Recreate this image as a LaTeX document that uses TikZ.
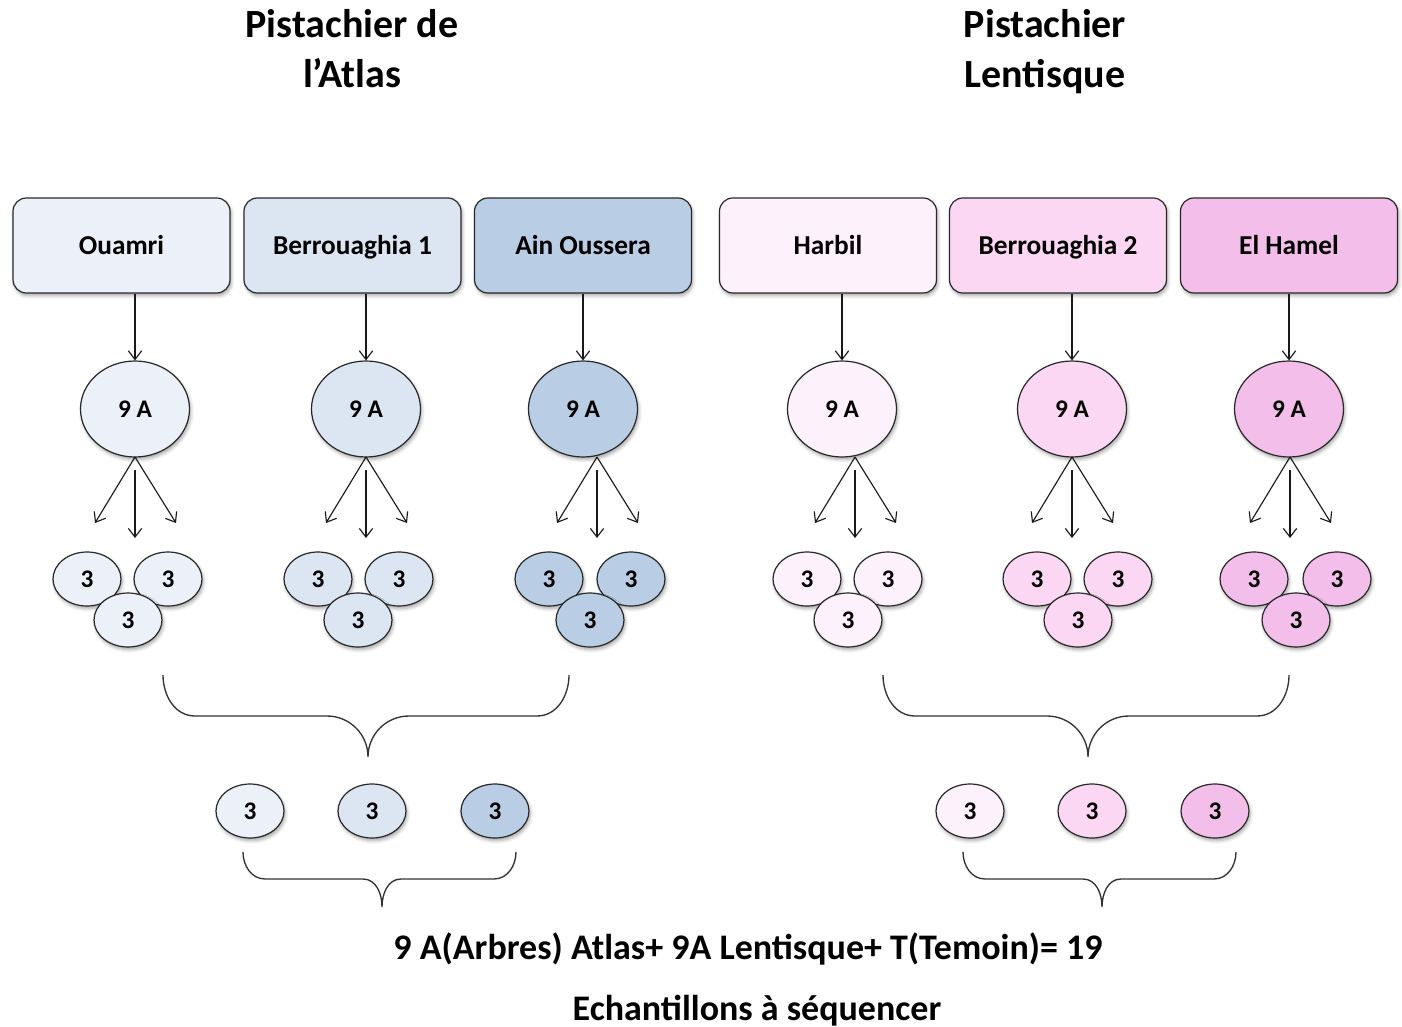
\documentclass[tikz,border=0pt]{standalone}
\usepackage{fontspec}
\setmainfont{Carlito}
\usetikzlibrary{arrows.meta,shapes.geometric,shadows.blur}
\definecolor{cA}{RGB}{236,241,249}
\definecolor{cB}{RGB}{220,230,242}
\definecolor{cC}{RGB}{185,205,229}
\definecolor{cD}{RGB}{253,241,251}
\definecolor{cE}{RGB}{251,215,243}
\definecolor{cF}{RGB}{243,190,233}
\definecolor{edge}{RGB}{40,40,40}
\tikzset{
  shad/.style={blur shadow={shadow xshift=1pt,shadow yshift=-2pt,shadow blur radius=2.5pt,shadow opacity=35}},
  sitebox/.style={draw=edge,line width=0.9pt,rounded corners=10pt,minimum width=162.75pt,minimum height=71.25pt,
    text height=13.2pt,text depth=0pt,font=\bfseries\fontsize{20.5}{24}\selectfont,shad},
  bigell/.style={ellipse,draw=edge,line width=0.9pt,minimum width=81.75pt,minimum height=72pt,inner sep=0pt,
    text height=12.2pt,text depth=0pt,font=\bfseries\fontsize{19}{22}\selectfont,shad},
  smallell/.style={ellipse,draw=edge,line width=0.9pt,minimum width=51pt,minimum height=40.5pt,inner sep=0pt,
    text height=12.2pt,text depth=0pt,font=\bfseries\fontsize{19}{22}\selectfont,shad},
  arr/.style={draw=black!90,line width=0.85pt,-{Straight Barb[length=6.5pt,width=10pt]}},
  bracestyle/.style={draw=black!80,line width=1pt},
  title/.style={anchor=base,font=\bfseries\fontsize{30}{36}\selectfont},
  foot/.style={anchor=base,font=\bfseries\fontsize{27}{32}\selectfont}
}
\newcommand\drawbrace[8]{\draw[bracestyle] (#1,#4) to[out=-90,in=180] (#1+#7,#5) -- (#3-#8,#5) to[out=0,in=90] (#3,#6) to[out=90,in=180] (#3+#8,#5) -- (#2-#7,#5) to[out=0,in=-90] (#2,#4);}
\begin{document}
\begin{tikzpicture}[x=0.75pt,y=-0.75pt]
\useasboundingbox (0,0) rectangle (1402,1027);
\node[title] (t1a) at (352,38) {Pistachier de};
\node[title] (t1b) at (352,88) {l’Atlas};
\node[title] (t2a) at (1045,38) {Pistachier};
\node[title] (t2b) at (1045,88) {Lentisque};
\foreach \i/\bx/\ex/\ax/\lx/\rx/\bbx/\col/\lab in {
  1/121.5/135/135/87/168/128/cA/Ouamri,
  2/352.5/366/366/318/399/358/cB/Berrouaghia 1,
  3/583/583/597/549/631/590/cC/Ain Oussera,
  4/828/842/855/807/888/848/cD/Harbil,
  5/1058/1072/1072/1037/1118/1078/cE/Berrouaghia 2,
  6/1289/1289/1290/1254/1337/1296/cF/El Hamel}{
  \node[sitebox,fill=\col] (b\i) at (\bx,245.5) {\lab};
  \node[bigell,fill=\col] (e\i) at (\ex,409) {9 A};
  \draw[arr] (b\i.south -| e\i.north) -- (e\i.north);
  \coordinate (ap\i) at (\ax,457);
  \coordinate (ms\i) at (\ax,470);
  \coordinate (fl\i) at (\ax-40,523);
  \coordinate (fm\i) at (\ax,538);
  \coordinate (fr\i) at (\ax+41,523);
  \draw[arr] (ap\i) -- (fl\i);
  \draw[arr] (ms\i) -- (fm\i);
  \draw[arr] (ap\i) -- (fr\i);
  \node[smallell,fill=\col] (sl\i) at (\lx,579) {3};
  \node[smallell,fill=\col] (sr\i) at (\rx,579) {3};
  \node[smallell,fill=\col] (sb\i) at (\bbx,620) {3};
}
\drawbrace{163}{569}{368}{675}{716}{757}{32}{41}
\drawbrace{883}{1289}{1088}{675}{716}{757}{32}{41}
\foreach \j/\x/\col in {1/250/cA,2/372/cB,3/495/cC,4/970/cD,5/1092/cE,6/1215/cF}{
  \node[smallell,fill=\col] (r\j) at (\x,811) {3};
}
\drawbrace{243}{516}{382}{852}{879}{907}{22}{19}
\drawbrace{963}{1236}{1102}{852}{879}{907}{22}{19}
\node[foot] (f1) at (748,959) {9 A(Arbres) Atlas+ 9A Lentisque+ T(Temoin)= 19};
\node[foot] (f2) at (757,1020) {Echantillons à séquencer};
\end{tikzpicture}
\end{document}
